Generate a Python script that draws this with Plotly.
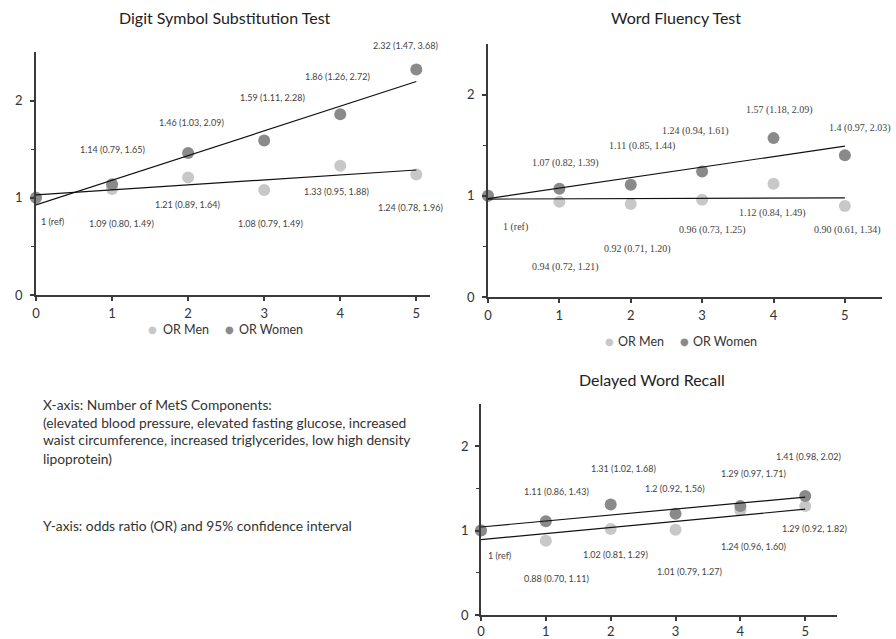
import numpy as np
import plotly.graph_objects as go

W, H = 896, 639

# ---------------- data ----------------
components = [0, 1, 2, 3, 4, 5]

dsst_men = [1, 1.09, 1.21, 1.08, 1.33, 1.24]
dsst_women = [1, 1.14, 1.46, 1.59, 1.86, 2.32]
dsst_men_labels = ["1 (ref)", "1.09 (0.80, 1.49)", "1.21 (0.89, 1.64)",
                   "1.08 (0.79, 1.49)", "1.33 (0.95, 1.88)", "1.24 (0.78, 1.96)"]
dsst_women_labels = ["1.14 (0.79, 1.65)", "1.46 (1.03, 2.09)", "1.59 (1.11, 2.28)",
                     "1.86 (1.26, 2.72)", "2.32 (1.47, 3.68)"]

wft_men = [1, 0.94, 0.92, 0.96, 1.12, 0.90]
wft_women = [1, 1.07, 1.11, 1.24, 1.57, 1.4]
wft_men_labels = ["1 (ref)", "0.94 (0.72, 1.21)", "0.92 (0.71, 1.20)",
                  "0.96 (0.73, 1.25)", "1.12 (0.84, 1.49)", "0.90 (0.61, 1.34)"]
wft_women_labels = ["1.07 (0.82, 1.39)", "1.11 (0.85, 1.44)", "1.24 (0.94, 1.61)",
                    "1.57 (1.18, 2.09)", "1.4 (0.97, 2.03)"]

dwr_men = [1, 0.88, 1.02, 1.01, 1.24, 1.29]
dwr_women = [1, 1.11, 1.31, 1.2, 1.29, 1.41]
dwr_men_labels = ["1 (ref)", "0.88 (0.70, 1.11)", "1.02 (0.81, 1.29)",
                  "1.01 (0.79, 1.27)", "1.24 (0.96, 1.60)", "1.29 (0.92, 1.82)"]
dwr_women_labels = ["1.11 (0.86, 1.43)", "1.31 (1.02, 1.68)", "1.2 (0.92, 1.56)",
                    "1.29 (0.97, 1.71)", "1.41 (0.98, 2.02)"]

titles = ["Digit Symbol Substitution Test", "Word Fluency Test", "Delayed Word Recall"]
legend_names = ["OR Men", "OR Women"]
y_ticks = [0, 1, 2]

# ---------------- label placement (data coords of each panel) ----------------
dsst_men_pos = [(0.22, 0.76), (1.13, 0.74), (1.99, 0.93), (3.08, 0.74), (3.95, 1.06), (4.92, 0.905)]
dsst_women_pos = [(1.0, 1.50), (2.05, 1.77), (3.105, 2.03), (3.96, 2.25), (4.86, 2.57)]
wft_men_pos = [(0.38, 0.69), (1.09, 0.30), (2.09, 0.47), (3.15, 0.66), (3.98, 0.83), (5.04, 0.66)]
wft_women_pos = [(1.08, 1.32), (2.16, 1.49), (2.91, 1.64), (4.09, 1.85), (5.21, 1.67)]
dwr_men_pos = [(0.29, 0.70), (1.17, 0.43), (2.07, 0.72), (3.21, 0.52), (4.20, 0.81), (5.14, 1.03)]
dwr_women_pos = [(1.17, 1.46), (2.19, 1.74), (2.99, 1.50), (4.20, 1.68), (5.05, 1.88)]

MEN_C = "#c8c8c8"
WOMEN_C = "#8a8a8a"
AX_C = "#3a3a3a"
TXT_C = "#333333"
SANS = "Lato, 'Open Sans', sans-serif"
SERIF = "'Liberation Serif', 'DejaVu Serif', serif"

fig = go.Figure()

# panel geometry in pixels
panels = [
    dict(xa="x", ya="y", x0=36, x1=430, xmax=5.18, yb=295, yt=52,
         title=(225, 18), xstand=2, ystand=5, legend=[(152, 161), (229, 237)], leg_y=329),
    dict(xa="x2", ya="y2", x0=488, x1=882, xmax=5.52, yb=297, yt=44,
         title=(676, 17), xstand=2, ystand=5, legend=[(609, 616), (684, 691)], leg_y=341),
    dict(xa="x3", ya="y3", x0=481, x1=837, xmax=5.49, yb=615, yt=404,
         title=(652, 379), xstand=0, ystand=4, legend=None, leg_y=None),
]

series = [
    (dsst_men, dsst_women, dsst_men_labels, dsst_women_labels, dsst_men_pos, dsst_women_pos, SANS, 9),
    (wft_men, wft_women, wft_men_labels, wft_women_labels, wft_men_pos, wft_women_pos, SERIF, 10),
    (dwr_men, dwr_women, dwr_men_labels, dwr_women_labels, dwr_men_pos, dwr_women_pos, SANS, 9),
]


def to_paper(p, xd, yd):
    px = p["x0"] + xd * (p["x1"] - p["x0"]) / p["xmax"]
    py = p["yb"] - yd * (p["yb"] - p["yt"]) / 2.5
    return px / W, 1 - py / H


annotations = []
layout_axes = {}
xs = np.array(components, dtype=float)

for i, (p, s) in enumerate(zip(panels, series)):
    men, women, mlab, wlab, mpos, wpos, afont, asize = s
    # markers
    for vals, col, nm in ((men, MEN_C, legend_names[0]), (women, WOMEN_C, legend_names[1])):
        fig.add_trace(go.Scatter(x=components, y=vals, mode="markers", name=nm,
                                 marker=dict(size=12, color=col),
                                 xaxis=p["xa"], yaxis=p["ya"], showlegend=False,
                                 cliponaxis=False))
    # linear trendlines
    for vals in (men, women):
        k, b = np.polyfit(xs, np.array(vals, dtype=float), 1)
        fig.add_trace(go.Scatter(x=[components[0], components[-1]],
                                 y=[b + k * components[0], b + k * components[-1]],
                                 mode="lines", line=dict(color="#111111", width=1.2),
                                 xaxis=p["xa"], yaxis=p["ya"], showlegend=False,
                                 hoverinfo="skip"))
    # value labels
    for lab, (ax_, ay_) in list(zip(mlab, mpos)) + list(zip(wlab, wpos)):
        px_, py_ = to_paper(p, ax_, ay_)
        annotations.append(dict(x=px_, y=py_, xref="paper", yref="paper", text=lab,
                                xanchor="center", yanchor="middle", showarrow=False,
                                font=dict(family=afont, size=asize, color="#444444")))
    # title
    annotations.append(dict(x=p["title"][0] / W, y=1 - p["title"][1] / H,
                            xref="paper", yref="paper", xanchor="center", yanchor="middle",
                            text=titles[i], showarrow=False,
                            font=dict(family=SANS, size=16, color="#222222")))
    # legend (marker glyph + text)
    if p["legend"]:
        for (mx, tx), name, col in zip(p["legend"], legend_names, (MEN_C, WOMEN_C)):
            annotations.append(dict(x=mx / W, y=1 - p["leg_y"] / H, xref="paper", yref="paper",
                                    xanchor="center", yanchor="middle", text="●",
                                    showarrow=False,
                                    font=dict(family="DejaVu Sans", size=10, color=col)))
            annotations.append(dict(x=tx / W, y=1 - p["leg_y"] / H, xref="paper", yref="paper",
                                    xanchor="left", yanchor="middle", text=name,
                                    showarrow=False,
                                    font=dict(family=SANS, size=12.5, color=TXT_C)))

    suffix = "" if i == 0 else str(i + 1)
    layout_axes["xaxis" + suffix] = dict(
        domain=[p["x0"] / W, p["x1"] / W], range=[0, p["xmax"]], anchor=p["ya"],
        automargin=False, showgrid=False, zeroline=False, showline=True,
        linecolor=AX_C, linewidth=1.5,
        ticks="outside", ticklen=4, tickcolor=AX_C, tickwidth=1.5,
        tickvals=components, ticklabelstandoff=p["xstand"],
        tickfont=dict(family=SANS, size=13, color=TXT_C))
    layout_axes["yaxis" + suffix] = dict(
        domain=[1 - p["yb"] / H, 1 - p["yt"] / H], range=[0, 2.5], anchor=p["xa"],
        automargin=False, showgrid=False, zeroline=False, showline=True,
        linecolor=AX_C, linewidth=1.5,
        ticks="outside", ticklen=4, tickcolor=AX_C, tickwidth=1.5,
        tickvals=y_ticks, ticklabelstandoff=p["ystand"],
        minor=dict(tickvals=[0.5, 1.5], ticks="outside", ticklen=3, tickcolor=AX_C, tickwidth=1.2),
        tickfont=dict(family=SANS, size=13, color=TXT_C))

# explanatory text
text_lines = ["X-axis: Number of MetS Components:",
              "(elevated blood pressure, elevated fasting glucose, increased",
              "waist circumference, increased triglycerides, low high density",
              "lipoprotein)"]
for j, line in enumerate(text_lines):
    annotations.append(dict(x=41 / W, y=1 - (404 + 18 * j) / H, xref="paper", yref="paper",
                            text=line, showarrow=False, xanchor="left", yanchor="middle",
                            font=dict(family=SANS, size=13.8, color=TXT_C)))
annotations.append(dict(x=41 / W, y=1 - 525 / H, xref="paper", yref="paper",
                        text="Y-axis: odds ratio (OR) and 95% confidence interval",
                        showarrow=False, xanchor="left", yanchor="middle",
                        font=dict(family=SANS, size=13.8, color=TXT_C)))

fig.update_layout(
    width=W, height=H, margin=dict(l=0, r=0, t=0, b=0),
    paper_bgcolor="white", plot_bgcolor="white",
    showlegend=False,
    annotations=annotations,
    **layout_axes)

fig.write_html("out.html", config={"displayModeBar": False},
               post_script="document.body.style.margin='0';document.body.style.overflow='hidden';")
